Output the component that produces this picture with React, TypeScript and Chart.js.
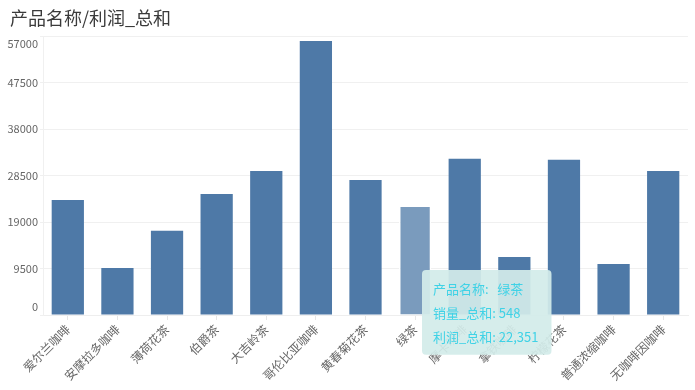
import React, { useEffect, useRef } from 'react';
import { Chart, registerables, Tooltip } from 'chart.js';

Chart.register(...registerables);

const titleText = '产品名称/利润_总和';
const categories = [
  '爱尔兰咖啡', '安摩拉多咖啡', '薄荷花茶', '伯爵茶', '大吉岭茶', '哥伦比亚咖啡',
  '黄春菊花茶', '绿茶', '摩卡咖啡', '拿铁咖啡', '柠檬花茶', '普通浓缩咖啡', '无咖啡因咖啡',
];
const profitValues = [23500, 9600, 17200, 24700, 29400, 56000, 27600, 22351, 31900, 11850, 31700, 10400, 29400];
const yTickValues = [0, 9500, 19000, 28500, 38000, 47500, 57000];
const hoveredIndex = 7;
const hoveredSales = 548;

const FONT = "'Noto Sans CJK SC', 'Noto Sans', sans-serif";

(Tooltip as any).positioners.fixedBox = function () {
  return { x: 426, y: 270 };
};

const yLabelPlugin = {
  id: 'yLabels',
  afterDatasetsDraw(chart: any) {
    const s = chart.scales.y;
    const ctx = chart.ctx;
    ctx.save();
    ctx.font = `11px ${FONT}`;
    ctx.fillStyle = '#666';
    ctx.textAlign = 'right';
    ctx.textBaseline = 'middle';
    yTickValues.forEach((v, i) => {
      let y = s.getPixelForValue(v);
      if (i === 0) y -= 8;
      if (i === yTickValues.length - 1) y += 8;
      ctx.fillText(String(v), chart.chartArea.left - 5, y);
    });
    ctx.restore();
  },
};

export default function App() {
  const ref = useRef<HTMLCanvasElement>(null);
  useEffect(() => {
    document.body.style.margin = '0';
    const chart = new Chart(ref.current!, {
      type: 'bar',
      data: {
        labels: categories,
        datasets: [
          {
            data: profitValues,
            backgroundColor: categories.map((_, i) => (i === hoveredIndex ? '#7a9bbd' : '#4e79a7')),
            hoverBackgroundColor: categories.map((_, i) => (i === hoveredIndex ? '#7a9bbd' : '#4e79a7')),
            borderColor: categories.map((_, i) => (i === hoveredIndex ? '#ffffff' : '#4e79a7')),
            borderWidth: categories.map((_, i) => (i === hoveredIndex ? 1.5 : 0)),
            categoryPercentage: 1,
            barPercentage: 0.65,
          },
        ],
      },
      plugins: [yLabelPlugin],
      options: {
        responsive: false,
        animation: false,
        events: [],
        layout: { padding: { left: 10, right: 7, top: 0, bottom: 0 } },
        plugins: {
          legend: { display: false },
          title: {
            display: true,
            text: titleText,
            align: 'start',
            color: '#3a3a3a',
            font: { family: FONT, size: 18, weight: 'normal' },
            padding: { top: 7, bottom: 7.4 },
          },
          tooltip: {
            enabled: true,
            position: 'fixedBox' as any,
            xAlign: 'left',
            yAlign: 'top',
            caretSize: 0,
            caretPadding: 0,
            cornerRadius: 4,
            displayColors: false,
            backgroundColor: 'rgba(211,236,233,0.93)',
            titleColor: '#3fd2e6',
            bodyColor: '#3fd2e6',
            titleFont: { family: FONT, size: 13, weight: 'normal' },
            bodyFont: { family: FONT, size: 13, weight: 'normal' },
            padding: { left: 11, right: 13, top: 11, bottom: 10 },
            titleMarginBottom: 8.6,
            bodySpacing: 8.4,
            callbacks: {
              title: (items: any[]) => `产品名称:   ${items[0].label}`,
              label: (item: any) => [
                `销量_总和: ${hoveredSales}`,
                `利润_总和: ${item.raw.toLocaleString('en-US')}`,
              ],
            },
          },
        },
        scales: {
          x: {
            grid: { drawOnChartArea: false, drawTicks: true, tickLength: 5, color: '#e6e6e6', offset: false },
            border: { display: true, color: '#eeeeee' },
            ticks: {
              color: '#666',
              font: { family: FONT, size: 12 },
              minRotation: 45,
              maxRotation: 45,
              autoSkip: false,
              padding: 2,
            },
            afterFit: (scale: any) => {
              scale.height = 75;
            },
          },
          y: {
            min: 0,
            max: 57000,
            grid: { color: '#f0f0f0', drawTicks: true, tickLength: 3 },
            border: { display: true, color: '#f0f0f0' },
            ticks: { display: false, stepSize: 9500 },
            afterFit: (scale: any) => {
              scale.width = 33;
            },
          },
        },
      },
    });
    const act = [{ datasetIndex: 0, index: hoveredIndex }];
    chart.tooltip!.setActiveElements(act, { x: 0, y: 0 });
    chart.draw();
    return () => chart.destroy();
  }, []);
  return <canvas ref={ref} width={695} height={390} />;
}
